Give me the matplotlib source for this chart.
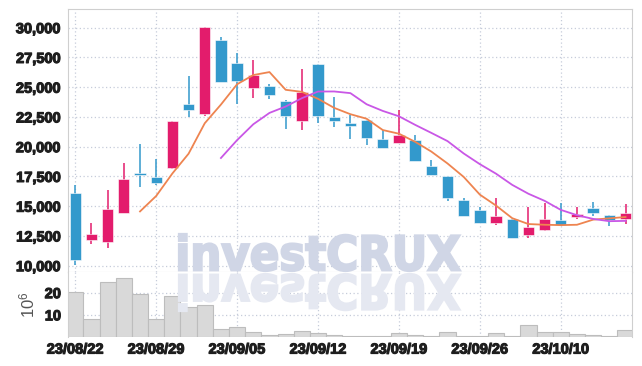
import matplotlib
matplotlib.use("Agg")
import matplotlib.pyplot as plt
import matplotlib.patheffects as pe
import numpy as np
import pandas as pd
from matplotlib.textpath import TextPath
from matplotlib.patches import PathPatch
from matplotlib.font_manager import FontProperties
from matplotlib.transforms import Affine2D

# trading days (yy/mm/dd)
dates = [
    "23/08/22", "23/08/23", "23/08/24", "23/08/25", "23/08/28",
    "23/08/29", "23/08/30", "23/08/31", "23/09/01", "23/09/04",
    "23/09/05", "23/09/06", "23/09/07", "23/09/08", "23/09/11",
    "23/09/12", "23/09/13", "23/09/14", "23/09/15", "23/09/18",
    "23/09/19", "23/09/20", "23/09/21", "23/09/22", "23/09/25",
    "23/09/26", "23/09/27", "23/10/04", "23/10/05", "23/10/06",
    "23/10/10", "23/10/11", "23/10/12", "23/10/13", "23/10/16",
]

opens = [16150, 12150, 12000, 14400, 17750, 17450, 18200, 23550, 22750, 28950,
         27000, 24950, 25100, 23800, 22150, 26950, 22500, 22000, 22250, 20650,
         20300, 20550, 18350, 17500, 15550, 14650, 13550, 13950, 12550, 13000,
         13850, 14050, 14850, 14250, 13900]
highs = [16800, 13600, 16350, 18650, 20200, 19000, 22200, 25950, 30050, 29200,
         27850, 27250, 25300, 23950, 26500, 26950, 24150, 22650, 22250, 21400,
         23100, 21000, 18850, 17500, 15700, 14900, 15700, 13950, 14950, 15300,
         15250, 14900, 15350, 14250, 15150]
lows = [10100, 11850, 11500, 14400, 16650, 16750, 18150, 22500, 22600, 25400,
        23600, 24050, 24000, 21500, 21400, 21950, 21650, 20650, 20100, 19850,
        20300, 18800, 17600, 15400, 14200, 13550, 13400, 12300, 12350, 12900,
        13400, 13950, 14200, 13300, 13500]
closes = [10450, 12700, 14800, 17250, 17600, 16950, 22150, 23100, 30050, 25450,
          25500, 26000, 24350, 22600, 24600, 22550, 22200, 21700, 20700, 19850,
          21000, 18800, 17600, 15700, 14200, 13550, 14200, 12300, 13250, 13900,
          13400, 14350, 14450, 13800, 14450]

# volume in millions of shares
volumes = [20.5, 8.0, 25.0, 26.4, 19.2, 8.0, 18.7, 13.5, 14.3, 3.6,
           4.4, 2.2, 1.0, 1.4, 2.6, 1.8, 1.0, 0.4, 0.4, 0.4,
           1.8, 1.0, 0.4, 2.2, 0.4, 0.3, 1.7, 0.3, 5.3, 2.2,
           2.2, 1.4, 1.0, 0.6, 3.0]

price_ticks = [10000, 12500, 15000, 17500, 20000, 22500, 25000, 27500, 30000]
volume_ticks = [10, 20]

UP = "#e31c6c"
DOWN = "#3399cc"
GRID = "#c6ccda"
LABEL = "#1e1e1e"
FONT = ["Liberation Sans Narrow", "Liberation Sans", "DejaVu Sans"]

plt.rcParams["font.family"] = FONT
plt.rcParams["font.weight"] = "bold"

W, H = 642, 366
fig = plt.figure(figsize=(W / 100, H / 100), dpi=100)
ax = fig.add_axes([68 / W, 1 - 272 / H, (632 - 68) / W, (272 - 9) / H])
axv = fig.add_axes([68 / W, 1 - 337 / H, (632 - 68) / W, (337 - 272) / H], sharex=ax)

x = np.arange(len(dates))
o = np.array(opens)
c = np.array(closes)
colors = [UP if cc >= oo else DOWN for oo, cc in zip(o, c)]

# candles
ax.vlines(x, lows, highs, colors=colors, linewidth=1.1, zorder=2)
ax.bar(x, np.abs(c - o), bottom=np.minimum(o, c), width=0.7,
       color=colors, edgecolor="#ffffff", linewidth=0.4, zorder=3)

# moving averages
ma5 = pd.Series(closes).rolling(5).mean()
ma10 = pd.Series(closes).rolling(10).mean()
ax.plot(x, ma5, color="#ee8450", linewidth=1.3, zorder=4)
ax.plot(x, ma10, color="#c957e6", linewidth=1.3, zorder=4)

# volume
axv.bar(x, volumes, width=1.0, color="#d9d9d9", edgecolor="#bdbdbd",
        linewidth=0.8, zorder=2)

ax.set_ylim(9470, 31570)
ax.set_xlim(-0.45, 34.4)
axv.set_ylim(0, 29.3)

ax.set_yticks(price_ticks)
ax.set_yticklabels([f"{v:,}" for v in price_ticks])
axv.set_yticks(volume_ticks)
axv.set_yticklabels([str(v) for v in volume_ticks])
axv.set_xticks(x[::5])
axv.set_xticklabels(dates[::5])
plt.setp(ax.get_xticklabels(), visible=False)

heavy = [pe.withStroke(linewidth=0.8, foreground=LABEL)]
for a in (ax, axv):
    a.grid(True, linestyle=(0, (1, 2)), color=GRID, linewidth=0.9, zorder=0)
    a.set_axisbelow(True)
    a.tick_params(length=0, labelsize=10.5, labelcolor=LABEL, pad=5)
    for lbl in a.get_xticklabels() + a.get_yticklabels():
        lbl.set_path_effects(heavy)
    for s in a.spines.values():
        s.set_color("#cfcfcf")
axv.spines["top"].set_visible(False)
axv.spines["bottom"].set_visible(False)
axv.tick_params(axis="x", pad=4)

axv.set_ylabel("$\\mathregular{10^6}$", color="#555555", fontsize=12,
               labelpad=5, fontweight="normal")

# watermark with reflection
tp = TextPath((0, 0), "investCRUX", size=100,
              prop=FontProperties(family="DejaVu Sans", weight="bold"))
bb = tp.get_extents()
sx = (460 - 179) / bb.width / W
sy = (271 - 234) / bb.height / H
base = Affine2D().translate(-bb.x0, -bb.y0)
main_tr = base + Affine2D().scale(sx, sy).translate(179 / W, 1 - 271 / H) + fig.transFigure
refl_tr = base + Affine2D().scale(sx, -sy).translate(179 / W, 1 - 274 / H) + fig.transFigure
fig.add_artist(PathPatch(tp, transform=main_tr, facecolor="#d0d6e6",
                         edgecolor="#d0d6e6", linewidth=1.6, zorder=5))
fig.add_artist(PathPatch(tp, transform=refl_tr, facecolor="#e5e8f1",
                         edgecolor="#e5e8f1", linewidth=1.6, zorder=5))

fig.savefig("out.png", dpi=100)
